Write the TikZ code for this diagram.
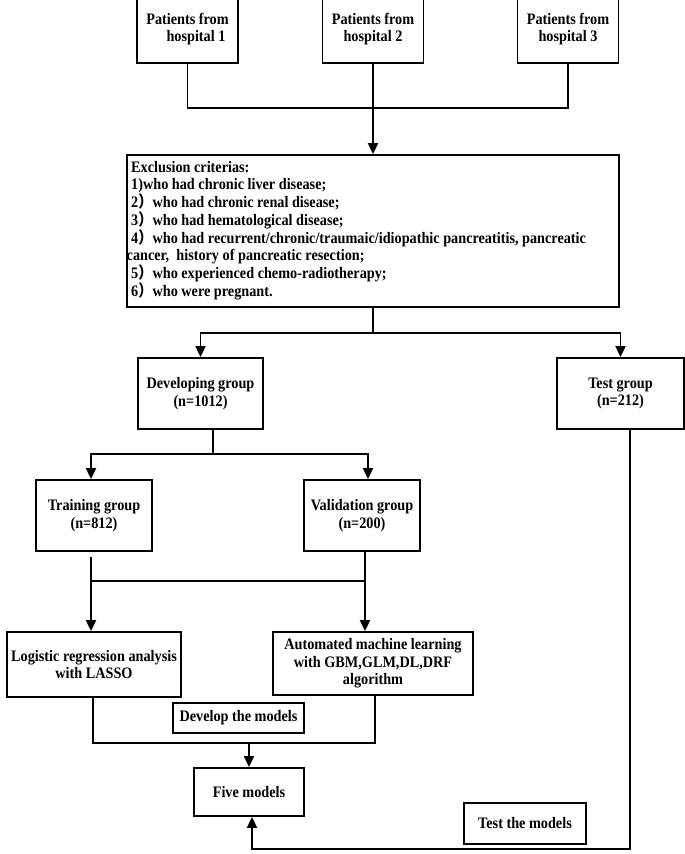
\documentclass[tikz,border=0pt]{standalone}
\usepackage{fontspec}
\setmainfont{Liberation Serif}[FakeStretch=0.89]
\newfontfamily\cjk{Noto Sans CJK SC}[FakeStretch=0.89]
\usetikzlibrary{arrows.meta}
\begin{document}
\begin{tikzpicture}[x=1pt,y=-1pt,
  box/.style={draw,line width=1.8pt,rectangle,align=center,inner sep=0pt,
    font=\bfseries\fontsize{16}{17.5}\selectfont},
  conn/.style={line width=1.8pt},
  arr/.style={line width=1.8pt,-{Triangle[length=11pt,width=10pt]}}]
\useasboundingbox (0,0) rectangle (685,854);
% hospitals
\node[box,minimum width=101,minimum height=68] (h1) at (187.5,29) {Patients from\\\hspace*{17pt}hospital 1};
\node[box,minimum width=101,minimum height=68] (h2) at (373,29) {Patients from\\hospital 2};
\node[box,minimum width=101,minimum height=68] (h3) at (568,29) {Patients from\\hospital 3};
% exclusion
\node[box,minimum width=492,minimum height=152] (excl) at (373,231) {};
\node[anchor=west,align=left,inner sep=0pt,font=\bfseries\fontsize{16}{17.1}\selectfont] (extext) at (131,231) {Exclusion criterias:\\
1)who had chronic liver disease;\\
2{\cjk ）}who had chronic renal disease;\\
3{\cjk ）}who had hematological disease;\\
4{\cjk ）}who had recurrent/chronic/traumaic/idiopathic pancreatitis, pancreatic\\
\hspace*{-4.5pt}cancer,\ \ history of pancreatic resection;\\
5{\cjk ）}who experienced chemo-radiotherapy;\\
6{\cjk ）}who were pregnant.};
% groups
\node[box,minimum width=125,minimum height=71] (dev) at (200.5,393.5) {Developing group\\(n=1012)};
\node[box,minimum width=127,minimum height=71] (test) at (620.5,393.5) {Test group\\(n=212)};
\node[box,minimum width=116,minimum height=71] (train) at (94,515.5) {Training group\\(n=812)};
\node[box,minimum width=116,minimum height=71] (valid) at (362,515.5) {Validation group\\(n=200)};
\node[box,minimum width=174,minimum height=65] (logit) at (94,664.5) {Logistic regression analysis\\with LASSO};
\node[box,minimum width=200,minimum height=63] (auto) at (373,663.5) {Automated machine learning\\with GBM,GLM,DL,DRF\\algorithm};
\node[box,minimum width=131,minimum height=30] (devm) at (238.5,718) {Develop the models};
\node[box,minimum width=110,minimum height=48] (five) at (249,792) {Five models};
\node[box,minimum width=122,minimum height=41] (testm) at (525,823.5) {Test the models};
% junctions
\coordinate (hj) at (373,108);
\coordinate (ej) at (373,333);
\coordinate (dj) at (213,454);
\coordinate (tj) at (91,581);
\coordinate (vj) at (365,581);
\coordinate (mj) at (249,743);
\coordinate (tb) at (630,849);
% connectors
\draw[conn] (h1.south) |- (hj) -| (h3.south);
\draw[arr] (h2.south) -- (excl.north);
\draw[conn] (excl.south) -- (ej);
\draw[arr] (ej) -| (dev.north);
\draw[arr] (ej) -| (test.north);
\draw[conn] (dj |- dev.south) -- (dj);
\draw[arr] (dj) -| ([xshift=-3pt]train.north);
\draw[arr] (dj) -| ([xshift=6pt]valid.north);
\draw[arr] ([xshift=-3pt,yshift=-5pt]train.south) -- ([xshift=-3pt]logit.north);
\draw[arr] ([xshift=3pt]valid.south) -- ([xshift=3pt]valid.south |- auto.north);
\draw[conn] (tj) -- (vj);
\draw[conn] ([xshift=-1pt]logit.south) |- (mj) -| ([xshift=2pt]auto.south);
\draw[arr] (mj) -- (five.north);
\draw[arr] (tb |- test.south) -- (tb) -| ([xshift=3pt]five.south);
\end{tikzpicture}
\end{document}
